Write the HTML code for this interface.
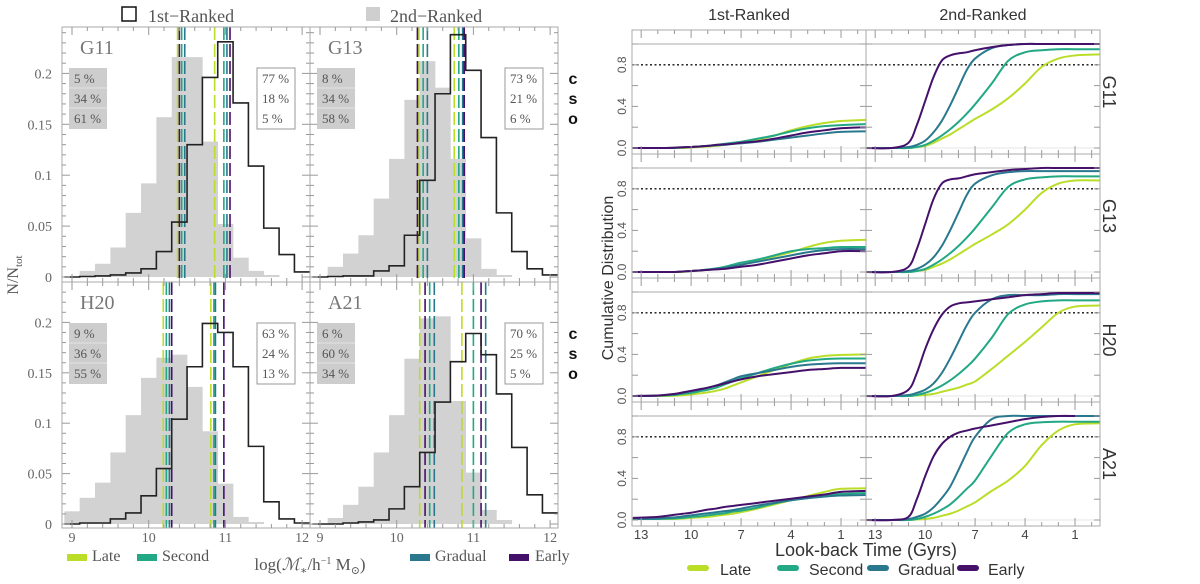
<!DOCTYPE html>
<html><head><meta charset="utf-8"><style>
html,body{margin:0;padding:0;background:#fff;}
svg{display:block;}
.serif{font-family:"Liberation Serif","DejaVu Serif",serif;}
.sans{font-family:"Liberation Sans","DejaVu Sans",sans-serif;}
</style></head><body>
<svg id="fig" width="1200" height="584" viewBox="0 0 1200 584" xmlns="http://www.w3.org/2000/svg">
<g id="left"></g>
<g id="right"></g>
</svg>
<script>
// ---------------- Left figure data ----------------
const binStart = 8.9; // bins of 0.2 dex
const panelNames = ["G11","G13","H20","A21"];
const grayG11 = [0,0.006,0.013,0.029,0.063,0.092,0.157,0.216,0.216,0.133,0.052,0.019,0.006,0.002,0,0,0];
const blackG11 = [0,0.0005,0.001,0.002,0.004,0.008,0.025,0.054,0.13,0.196,0.231,0.171,0.109,0.048,0.022,0.005];
const grayG13 = [0,0.010,0.023,0.041,0.077,0.116,0.174,0.212,0.186,0.116,0.038,0.008,0.002,0,0,0];
const blackG13 = [0,0.0005,0.001,0.001,0.006,0.011,0.041,0.095,0.180,0.238,0.203,0.137,0.063,0.025,0.008,0.002];
const grayH20 = [0.0126,0.026,0.041,0.071,0.108,0.145,0.165,0.168,0.136,0.092,0.040,0.007,0.002,0,0,0];
const blackH20 = [0,0.001,0.001,0.005,0.011,0.028,0.055,0.104,0.156,0.199,0.190,0.156,0.077,0.022,0.005,0.001];
const grayA21 = [0,0.006,0.019,0.037,0.071,0.108,0.164,0.204,0.206,0.122,0.051,0.014,0.004,0,0,0];
const blackA21 = [0,0,0.001,0.002,0.004,0.015,0.037,0.071,0.121,0.161,0.189,0.168,0.129,0.076,0.029,0.011];
// vertical median lines [late, second, gradual, early] for two groups
const medG11 = [[10.376,10.43,10.47,10.40],[10.86,10.98,11.02,11.06]];
const medG13 = [[10.29,10.345,10.40,10.27],[10.75,10.81,10.86,10.88]];
const medH20 = [[10.19,10.23,10.27,10.30],[10.81,10.85,10.87,10.98]];
const medA21 = [[10.30,10.43,10.49,10.37],[10.85,11.0,11.16,11.10]];
const pctLeftG11=["5 %","34 %","61 %"], pctRightG11=["77 %","18 %","5 %"];
const pctLeftG13=["8 %","34 %","58 %"], pctRightG13=["73 %","21 %","6 %"];
const pctLeftH20=["9 %","36 %","55 %"], pctRightH20=["63 %","24 %","13 %"];
const pctLeftA21=["6 %","60 %","34 %"], pctRightA21=["70 %","25 %","5 %"];
const yTickVals=[0,0.05,0.1,0.15,0.2];
const yTickLabels=["0","0.05","0.1","0.15","0.2"];
const xTickVals=[9,10,11,12];

const colors={late:"#bade28",second:"#22a884",gradual:"#2a788e",early:"#45106a"};
const order=["late","second","gradual","early"];

const NS="http://www.w3.org/2000/svg";
function mk(parent,tag,attrs,text){const e=document.createElementNS(NS,tag);for(const k in attrs)e.setAttribute(k,attrs[k]);if(text!==undefined)e.textContent=text;parent.appendChild(e);return e;}

const L=document.getElementById('left');
const hist=[
 {name:"G11",gray:grayG11,black:blackG11,med:medG11,pl:pctLeftG11,pr:pctRightG11},
 {name:"G13",gray:grayG13,black:blackG13,med:medG13,pl:pctLeftG13,pr:pctRightG13},
 {name:"H20",gray:grayH20,black:blackH20,med:medH20,pl:pctLeftH20,pr:pctRightH20},
 {name:"A21",gray:grayA21,black:blackA21,med:medA21,pl:pctLeftA21,pr:pctRightA21}];
const colL=[62,310], colW=248;
const rowT=[27,282], rowB=[282,528], rowZero=[277,524], rowScale=[1018,1008];

hist.forEach((p,i)=>{
  const c=i%2, r=Math.floor(i/2);
  const x0=colL[c], x1=x0+colW, yT=rowT[r], yB=rowB[r];
  const xs=m=>x0+10+(m-9)*76.7;
  const ys=v=>rowZero[r]-v*rowScale[r];
  const g=mk(L,'g',{});
  
  
  const clipId='clipL'+i;
  const cp=mk(g,'clipPath',{id:clipId}); mk(cp,'rect',{x:x0,y:yT,width:colW,height:yB-yT});
  const inner=mk(g,'g',{'clip-path':'url(#'+clipId+')'});
  p.gray.forEach((v,k)=>{ if(v<=0) return;
    const a=binStart+0.2*k, b=a+0.2;
    const rct=mk(inner,'rect',{x:xs(a),y:ys(v),width:xs(b)-xs(a)+0.3,height:ys(0)-ys(v),fill:'#d2d2d2'});
    
    
  });
  p.med.forEach(grp=>grp.forEach((m,k)=>{
    const ln=mk(inner,'line',{x1:xs(m),x2:xs(m),y1:yT,y2:yB,stroke:colors[order[k]],'stroke-width':1.6,'stroke-dasharray':'13,4'});
    
    
  }));
  let d='';
  p.black.forEach((v,k)=>{const a=binStart+0.2*k,b=a+0.2;d+=(k===0?'M':'L')+xs(a)+','+ys(v)+'L'+xs(b)+','+ys(v);});
  const st=mk(inner,'path',{d:d,fill:'none',stroke:'#222','stroke-width':1.6});
  
  
  mk(g,'rect',{x:x0,y:yT,width:colW,height:yB-yT,fill:'none',stroke:'#aaa','stroke-width':1});
  for(let v=0;v<=0.245;v+=0.01){const y=ys(v); if(y<yT+1) continue; const major=Math.abs(v/0.05-Math.round(v/0.05))<1e-6;const len=major?8:4;
    mk(g,'line',{x1:x0,x2:x0+len,y1:y,y2:y,stroke:'#999','stroke-width':1});
    mk(g,'line',{x1:x1,x2:x1-len,y1:y,y2:y,stroke:'#999','stroke-width':1});}
  for(let m=9;m<=12.01;m+=0.2){const x=xs(m);const major=Math.abs(m-Math.round(m))<1e-6;const len=major?8:4;
    mk(g,'line',{x1:x,x2:x,y1:yB,y2:yB-len,stroke:'#999','stroke-width':1});
    mk(g,'line',{x1:x,x2:x,y1:yT,y2:yT+len,stroke:'#999','stroke-width':1});}
  if(c===0){ yTickVals.forEach((v,k)=>{const t=mk(g,'text',{x:52,y:ys(v)+5,'text-anchor':'end','font-size':14,fill:'#666',class:'serif'},yTickLabels[k]);
      });}
  if(r===1){ xTickVals.forEach(v=>{const t=mk(g,'text',{x:xs(v),y:542,'text-anchor':'middle','font-size':14,fill:'#666',class:'serif'},String(v));
      });}
  const lab=mk(g,'text',{x:x0+18,y:yT+27,'font-size':20,fill:'#777',class:'serif'},p.name);
  
  const bx=x0+7, by=yT+41;
  mk(g,'rect',{x:bx,y:by,width:38,height:61,fill:'#cdcdcd'});
  mk(g,'line',{x1:bx,x2:bx+38,y1:by+20,y2:by+20,stroke:'#e4e4e4'});
  mk(g,'line',{x1:bx,x2:bx+38,y1:by+40,y2:by+40,stroke:'#e4e4e4'});
  p.pl.forEach((s,k)=>{const t=mk(g,'text',{x:bx+5,y:by+15+k*20,'font-size':13,fill:'#555',class:'serif'},s);
    });
  const rx=x0+195;
  mk(g,'rect',{x:rx,y:by,width:38,height:61,fill:'#fff',stroke:'#999'});
  p.pr.forEach((s,k)=>{const t=mk(g,'text',{x:rx+5,y:by+15+k*20,'font-size':13,fill:'#555',class:'serif'},s);
    });
  if(c===1){ ['c','s','o'].forEach((s,k)=>{const t=mk(g,'text',{x:573,y:yT+57+k*20,'font-size':16,'font-weight':'bold',fill:'#111','text-anchor':'middle',class:'sans'},s);
    });}
});
</script>
<script>
// ---------------- Right figure data ----------------
const T=[13.5,12,11,10.5,10,9.5,9,8.5,8,7.5,7,6,5,4,3,2,1,-0.5];
const rowNames=["G11","G13","H20","A21"];
const colNames=["1st-Ranked","2nd-Ranked"];
const g11_1_late=[0,0,0,0,0.005,0.01,0.015,0.02,0.03,0.04,0.05,0.08,0.12,0.17,0.21,0.24,0.26,0.27];
const g11_1_second=[0,0,0,0.005,0.01,0.015,0.02,0.03,0.04,0.05,0.06,0.09,0.12,0.16,0.19,0.21,0.22,0.23];
const g11_1_gradual=[0,0,0.003,0.007,0.01,0.015,0.02,0.025,0.03,0.04,0.045,0.06,0.08,0.1,0.12,0.14,0.155,0.16];
const g11_1_early=[0,0,0.003,0.007,0.01,0.015,0.02,0.03,0.035,0.04,0.05,0.065,0.09,0.12,0.15,0.17,0.19,0.2];
const g11_2_late=[0,0,0,0.01,0.02,0.05,0.09,0.13,0.18,0.23,0.28,0.37,0.48,0.62,0.78,0.86,0.89,0.9];
const g11_2_second=[0,0,0,0.01,0.03,0.07,0.12,0.18,0.25,0.33,0.42,0.62,0.84,0.92,0.94,0.95,0.95,0.95];
const g11_2_gradual=[0,0,0.01,0.03,0.07,0.15,0.26,0.41,0.58,0.75,0.86,0.96,0.99,1,1,1,1,1];
const g11_2_early=[0,0,0.05,0.22,0.45,0.68,0.84,0.89,0.91,0.92,0.94,0.97,0.99,1,1,1,1,1];
const g13_1_late=[0,0,0,0,0.01,0.015,0.02,0.03,0.04,0.05,0.07,0.11,0.15,0.19,0.24,0.28,0.3,0.31];
const g13_1_second=[0,0,0,0.005,0.01,0.015,0.025,0.035,0.05,0.07,0.09,0.12,0.16,0.2,0.22,0.23,0.24,0.24];
const g13_1_gradual=[0,0,0,0.005,0.01,0.015,0.02,0.03,0.04,0.055,0.07,0.1,0.13,0.16,0.19,0.21,0.22,0.22];
const g13_1_early=[0,0,0,0.005,0.01,0.015,0.02,0.025,0.03,0.04,0.05,0.07,0.1,0.13,0.16,0.18,0.2,0.2];
const g13_2_late=[0,0,0,0.01,0.02,0.05,0.08,0.12,0.17,0.22,0.27,0.36,0.46,0.6,0.76,0.85,0.88,0.88];
const g13_2_second=[0,0,0,0.01,0.03,0.07,0.12,0.18,0.25,0.33,0.42,0.62,0.82,0.89,0.91,0.92,0.92,0.92];
const g13_2_gradual=[0,0,0.01,0.03,0.07,0.14,0.25,0.4,0.57,0.74,0.85,0.93,0.96,0.97,0.97,0.97,0.97,0.97];
const g13_2_early=[0,0,0.05,0.22,0.46,0.7,0.85,0.89,0.9,0.92,0.94,0.96,0.98,0.99,1,1,1,1];
const h20_1_late=[0,0,0.003,0.007,0.015,0.025,0.035,0.05,0.07,0.1,0.13,0.19,0.25,0.31,0.36,0.385,0.395,0.4];
const h20_1_second=[0,0.003,0.01,0.02,0.03,0.045,0.06,0.08,0.11,0.14,0.17,0.22,0.27,0.31,0.34,0.355,0.36,0.36];
const h20_1_gradual=[0,0.005,0.015,0.03,0.045,0.06,0.08,0.1,0.13,0.16,0.19,0.22,0.25,0.28,0.3,0.31,0.315,0.315];
const h20_1_early=[0,0.005,0.02,0.035,0.05,0.065,0.08,0.1,0.12,0.14,0.16,0.19,0.21,0.23,0.25,0.26,0.27,0.27];
const h20_2_late=[0,0,0,0.005,0.01,0.02,0.04,0.06,0.08,0.11,0.14,0.26,0.39,0.52,0.66,0.8,0.86,0.87];
const h20_2_second=[0,0,0,0.01,0.03,0.06,0.1,0.15,0.21,0.28,0.36,0.56,0.79,0.88,0.91,0.92,0.92,0.92];
const h20_2_gradual=[0,0,0.01,0.03,0.06,0.12,0.22,0.36,0.52,0.68,0.8,0.93,0.97,0.97,0.97,0.98,0.98,0.98];
const h20_2_early=[0,0,0.06,0.22,0.45,0.64,0.78,0.86,0.89,0.9,0.91,0.93,0.95,0.97,0.98,0.99,0.99,0.99];
const a21_1_late=[0.01,0.01,0.01,0.015,0.02,0.025,0.03,0.04,0.05,0.06,0.075,0.11,0.15,0.19,0.23,0.27,0.3,0.305];
const a21_1_second=[0.01,0.01,0.015,0.02,0.03,0.035,0.045,0.055,0.065,0.08,0.09,0.12,0.16,0.19,0.21,0.235,0.25,0.26];
const a21_1_gradual=[0.01,0.015,0.025,0.035,0.045,0.055,0.065,0.075,0.085,0.095,0.11,0.14,0.165,0.19,0.21,0.225,0.235,0.24];
const a21_1_early=[0.02,0.03,0.05,0.06,0.07,0.085,0.1,0.11,0.125,0.135,0.145,0.165,0.185,0.205,0.225,0.245,0.27,0.28];
const a21_2_late=[0,0,0,0.005,0.01,0.02,0.04,0.06,0.09,0.13,0.17,0.28,0.38,0.52,0.72,0.86,0.92,0.93];
const a21_2_second=[0,0,0,0.01,0.03,0.06,0.1,0.15,0.22,0.3,0.38,0.62,0.84,0.92,0.94,0.945,0.945,0.945];
const a21_2_gradual=[0,0,0.01,0.03,0.06,0.12,0.21,0.32,0.48,0.65,0.8,0.97,1,1,1,1,1,1];
const a21_2_early=[0,0,0.03,0.2,0.42,0.61,0.73,0.8,0.84,0.86,0.88,0.91,0.94,0.97,0.99,1.0,1.0,null];
const xTickMajor=[13,10,7,4,1];
const yTickR=[0,0.4,0.8];
const yTickRLabels=["0.0","0.4","0.8"];

const R=document.getElementById('right');
const cols2={late:"#bade28",second:"#22a884",gradual:"#2a788e",early:"#45106a"};
const ser=["late","second","gradual","early"];
const panels={
 G11:[[g11_1_late,g11_1_second,g11_1_gradual,g11_1_early],[g11_2_late,g11_2_second,g11_2_gradual,g11_2_early]],
 G13:[[g13_1_late,g13_1_second,g13_1_gradual,g13_1_early],[g13_2_late,g13_2_second,g13_2_gradual,g13_2_early]],
 H20:[[h20_1_late,h20_1_second,h20_1_gradual,h20_1_early],[h20_2_late,h20_2_second,h20_2_gradual,h20_2_early]],
 A21:[[a21_1_late,a21_1_second,a21_1_gradual,a21_1_early],[a21_2_late,a21_2_second,a21_2_gradual,a21_2_early]]};
const cL=[632,866], cW=234, rTop=30, rH=124;
function el(parent,tag,attrs,text){const e=document.createElementNS("http://www.w3.org/2000/svg",tag);for(const k in attrs)e.setAttribute(k,attrs[k]);if(text!==undefined)e.textContent=text;parent.appendChild(e);return e;}
function smooth(pts){ if(pts.length<2) return '';
  let d='M'+pts[0][0]+','+pts[0][1];
  for(let i=0;i<pts.length-1;i++){const p0=pts[i-1]||pts[i],p1=pts[i],p2=pts[i+1],p3=pts[i+2]||p2;
    const c1=[p1[0]+(p2[0]-p0[0])/6,p1[1]+(p2[1]-p0[1])/6];
    const c2=[p2[0]-(p3[0]-p1[0])/6,p2[1]-(p3[1]-p1[1])/6];
    d+='C'+c1[0]+','+c1[1]+' '+c2[0]+','+c2[1]+' '+p2[0]+','+p2[1];}
  return d;}
rowNames.forEach((rn,r)=>{
  const yT=rTop+r*rH, yB=yT+rH, yZero=yT+118;
  const ys=v=>yZero-v*104;
  [0,1].forEach(c=>{
    const x0=cL[c], x1=x0+cW;
    const xs=t=>x0+(13.55-t)*(cW/14.05);
    const g=el(R,'g',{});
    
    
    el(g,'line',{x1:x0,x2:x1,y1:ys(1),y2:ys(1),stroke:'#aaa','stroke-width':1});
    el(g,'line',{x1:x0,x2:x1,y1:ys(0),y2:ys(0),stroke:'#e6e6e6','stroke-width':1});
    el(g,'line',{x1:x0,x2:x1,y1:ys(0.8),y2:ys(0.8),stroke:'#111','stroke-width':1.4,'stroke-dasharray':'2,2.5'});
    panels[rn][c].forEach((arr,k)=>{
      const pts=[];arr.forEach((v,i)=>{if(v!==null)pts.push([xs(T[i]),ys(v)]);});
      const p=el(g,'path',{d:smooth(pts),fill:'none',stroke:cols2[ser[k]],'stroke-width':2});
      
      
    });
    el(g,'rect',{x:x0,y:yT,width:cW,height:rH,fill:'none',stroke:'#aaa','stroke-width':1});
    for(let t=13;t>=0;t--){const x=xs(t);const major=xTickMajor.includes(t);const len=major?8:4;
      el(g,'line',{x1:x,x2:x,y1:yB,y2:yB-len,stroke:'#999'});el(g,'line',{x1:x,x2:x,y1:yT,y2:yT+len,stroke:'#999'});}
    for(let v=0;v<=1.001;v+=0.2){const y=ys(v);
      el(g,'line',{x1:x0,x2:x0+6,y1:y,y2:y,stroke:'#999'});el(g,'line',{x1:x1,x2:x1-6,y1:y,y2:y,stroke:'#999'});}
    if(c===0){ yTickR.forEach((v,k)=>{const t=el(g,'text',{transform:'translate(626,'+ys(v)+') rotate(-90)','text-anchor':'middle','font-size':12,fill:'#555',class:'sans'},yTickRLabels[k]);
      });}
    if(r===3){ xTickMajor.forEach(v=>{const t=el(g,'text',{x:xs(v),y:539,'text-anchor':'middle','font-size':13,fill:'#444',class:'sans'},String(v));
      });}
  });
  const rl=el(R,'text',{transform:'translate(1103,'+(yT+62)+') rotate(90)','text-anchor':'middle','font-size':18,fill:'#333',class:'sans'},rn);
  
});
</script>
<script>
(function(){
const S=document.getElementById('fig');
function t(x,y,txt,attrs,name,inter){const e=document.createElementNS("http://www.w3.org/2000/svg",'text');e.setAttribute('x',x);e.setAttribute('y',y);for(const k in attrs)e.setAttribute(k,attrs[k]);e.textContent=txt;
  
  S.appendChild(e);return e;}
function r(x,y,w,h,attrs,name,inter){const e=document.createElementNS("http://www.w3.org/2000/svg",'rect');e.setAttribute('x',x);e.setAttribute('y',y);e.setAttribute('width',w);e.setAttribute('height',h);for(const k in attrs)e.setAttribute(k,attrs[k]);
  
  S.appendChild(e);return e;}
r(122,7,14,14,{fill:'#fff',stroke:'#111','stroke-width':1.5},'legend-swatch-1st-ranked',true);
t(148,22,'1st\u2212Ranked',{'font-size':18,fill:'#555',class:'serif'},'legend-entry-1st-ranked',true);
r(366,7,14,14,{fill:'#cfcfcf'},'legend-swatch-2nd-ranked',true);
t(390,22,'2nd\u2212Ranked',{'font-size':18,fill:'#555',class:'serif'},'legend-entry-2nd-ranked',true);
const yl=t(0,0,'',{transform:'translate(18,275) rotate(-90)','text-anchor':'middle','font-size':16,fill:'#555',class:'serif'},'y-axis-title',false);
yl.innerHTML='N/N<tspan font-size="11" dy="4">tot</tspan>';
const xl=t(310,570,'',{'text-anchor':'middle','font-size':17,fill:'#555',class:'serif'},'x-axis-title',false);
xl.innerHTML='log(<tspan font-style="italic">\u2133</tspan><tspan font-size="11" dy="4">\u2217</tspan><tspan dy="-4">/h</tspan><tspan font-size="10" dy="-6">\u22121</tspan><tspan dy="6"> M</tspan><tspan font-size="11" dy="4">\u2299</tspan><tspan dy="-4">)</tspan>';
const lc={late:"#bade28",second:"#22a884",gradual:"#2a788e",early:"#45106a"};
r(67,554,20,7,{fill:lc.late},'legend-swatch-late',true); t(92,561,'Late',{'font-size':16,fill:'#555',class:'serif'},'legend-entry-late',true);
r(137,554,20,7,{fill:lc.second},'legend-swatch-second',true); t(162,561,'Second',{'font-size':16,fill:'#555',class:'serif'},'legend-entry-second',true);
r(410,554,20,7,{fill:lc.gradual},'legend-swatch-gradual',true); t(435,561,'Gradual',{'font-size':16,fill:'#555',class:'serif'},'legend-entry-gradual',true);
r(509,554,20,7,{fill:lc.early},'legend-swatch-early',true); t(535,561,'Early',{'font-size':16,fill:'#555',class:'serif'},'legend-entry-early',true);
t(749,20,'1st-Ranked',{'text-anchor':'middle','font-size':16,fill:'#333',class:'sans'},'column-title-1st',false);
t(983,20,'2nd-Ranked',{'text-anchor':'middle','font-size':16,fill:'#333',class:'sans'},'column-title-2nd',false);
t(0,0,'Cumulative Distribution',{transform:'translate(613,278) rotate(-90)','text-anchor':'middle','font-size':16,fill:'#333',class:'sans'},'y-axis-title-cdf',false);
t(866,556,'Look-back Time (Gyrs)',{'text-anchor':'middle','font-size':18,fill:'#333',class:'sans'},'x-axis-title-cdf',false);
const legs=[['late','Late',687,720],['second','Second',777,809],['gradual','Gradual',867,898],['early','Early',957,988]];
legs.forEach(l=>{
  r(l[2],565,22,6,{fill:lc[l[0]],rx:3},'legend-swatch-'+l[0]+'-cdf',true);
  t(l[3],575,l[1],{'font-size':16,fill:'#333',class:'sans'},'legend-entry-'+l[0]+'-cdf',true);
});
})();
</script>
</body></html>
